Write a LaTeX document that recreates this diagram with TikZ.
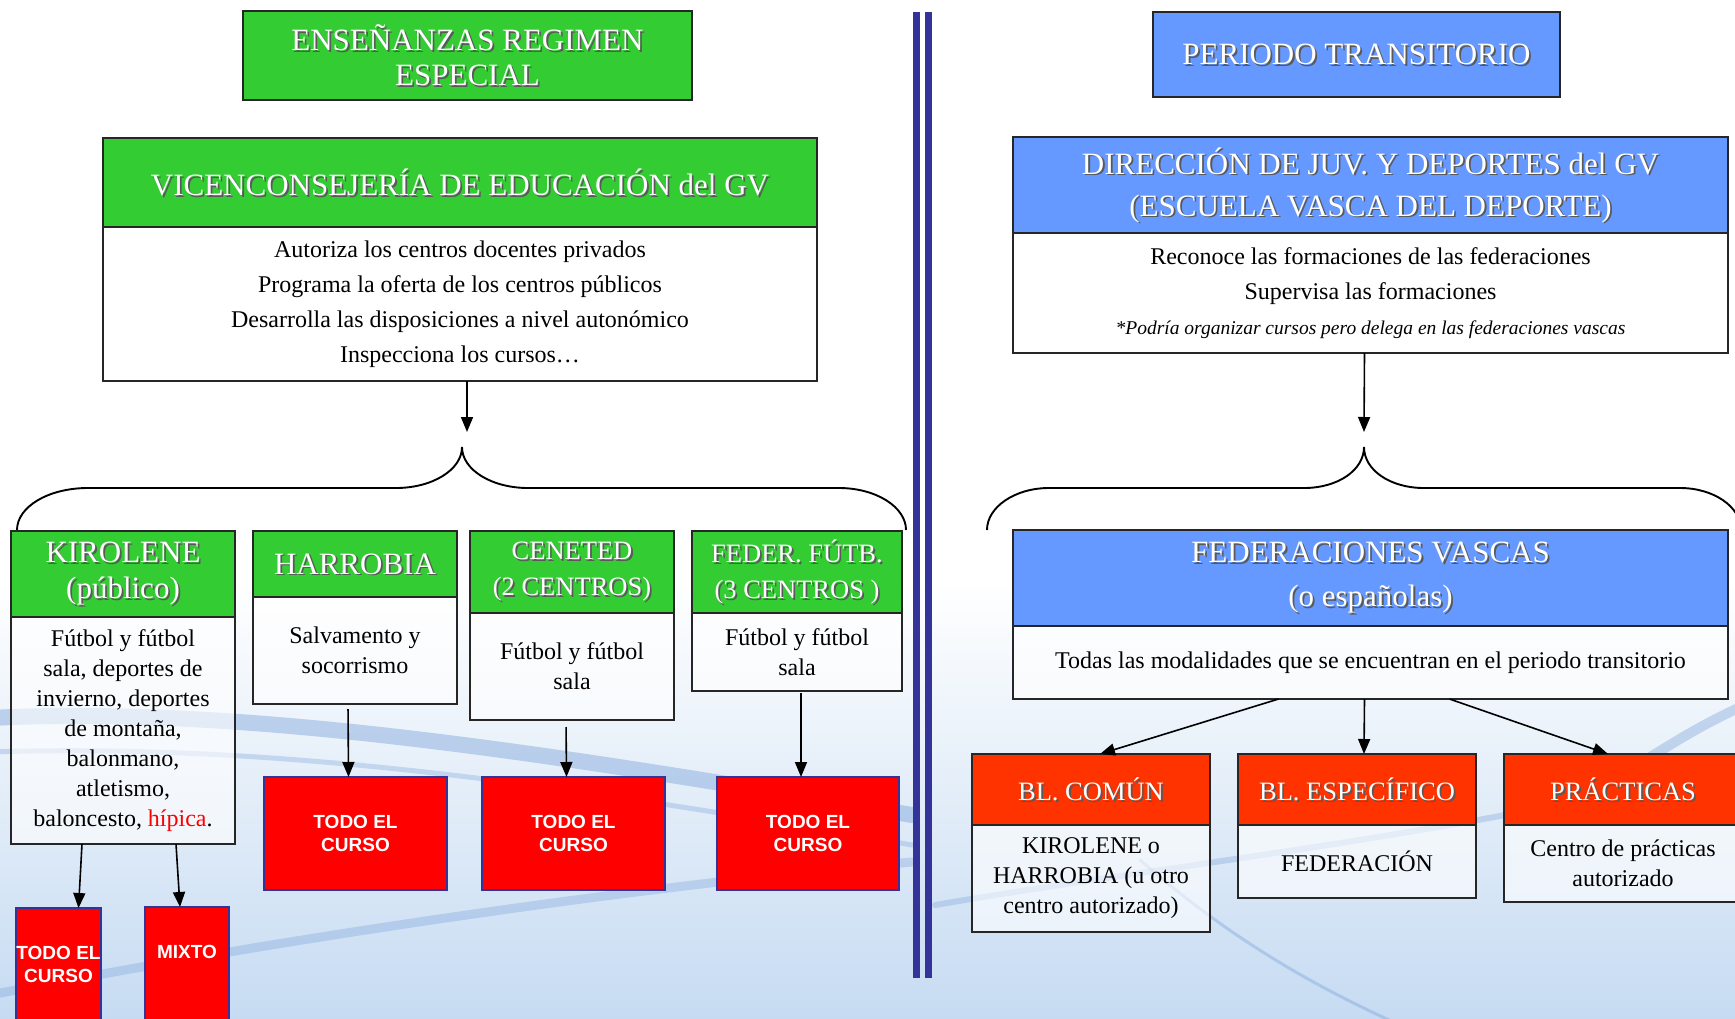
\documentclass[tikz,border=0pt]{standalone}
\usepackage{fontspec}
\setmainfont{Liberation Serif}
\newfontfamily\redfont{Liberation Sans}
\usetikzlibrary{positioning,arrows.meta}

\definecolor{hdgreen}{HTML}{33CC33}
\definecolor{hdblue}{HTML}{6699FF}
\definecolor{hdorange}{HTML}{FF3300}
\definecolor{tdred}{HTML}{FF0000}
\definecolor{navy}{HTML}{333399}
\definecolor{bgblue}{HTML}{C6DBF2}
\definecolor{wavecol}{HTML}{6F9AD6}

\tikzset{
  box/.style={draw=black!85, line width=1.6pt, anchor=north west, inner sep=0pt, outer sep=0pt, align=center},
  greenhd/.style={box, fill=hdgreen},
  bluehd/.style={box, fill=hdblue},
  orangehd/.style={box, fill=hdorange},
  bodybox/.style={box, fill=white, fill opacity=.6, text opacity=1, font=\fontsize{24}{35}\selectfont},
  body30/.style={font=\fontsize{24}{30}\selectfont},
  redbox/.style={draw=navy, line width=1.6pt, fill=tdred, anchor=north west, inner sep=0pt, outer sep=0pt,
    text=white, align=center, font=\redfont\bfseries\fontsize{19}{23}\selectfont},
  hdtext/.style={text=white, align=center, inner sep=0pt},
  hdshade/.style={text=black!65, align=center, inner sep=0pt},
  big/.style={font=\fontsize{31}{35}\selectfont},
  bigw/.style={font=\fontsize{31}{42}\selectfont},
  bigv/.style={font=\fontsize{31}{44}\selectfont},
  mid/.style={font=\fontsize{31}{36}\selectfont},
  small/.style={font=\fontsize{26.5}{36}\selectfont},
  arr/.style={-{Triangle[length=15pt,width=12pt]}, line width=1.6pt},
  brace/.style={line width=1.9pt},
  vline/.style={draw=navy, line width=7pt},
  wave/.style={draw=wavecol, line cap=round, opacity=.4},
}

% white title with a dark shadow
\newcommand{\hdtitle}[3]{%
  \node[hdshade, #2] (#1s) at ([shift={(1.8,1.8)}]#1.center) {#3};
  \node[hdtext, #2] (#1t) at (#1.center) {#3};
}

\begin{document}
\begin{tikzpicture}[x=1pt, y=-1pt]
  \useasboundingbox (0,0) rectangle (1735,1018);

  % background
  \shade[top color=white, bottom color=bgblue] (0,580) rectangle (1735,1018);
  \draw[wave, line width=16pt] (-10,718) .. controls (250,705) and (560,755) .. (912,815);
  \draw[wave, line width=5pt, opacity=.3] (-10,752) .. controls (300,742) and (600,792) .. (912,845);
  \draw[wave, line width=9pt, opacity=.3] (-10,995) .. controls (300,935) and (650,885) .. (912,862);
  \draw[wave, line width=6pt, opacity=.3] (935,905) .. controls (1200,860) and (1500,830) .. (1745,760);
  \draw[wave, line width=3pt, opacity=.35] (1140,860) .. controls (1220,930) and (1300,980) .. (1400,1025);
  \draw[wave, line width=10pt, opacity=.35] (1600,790) .. controls (1660,750) and (1700,725) .. (1745,705);

  % separator
  \draw[vline] (916,12) -- (916,978);
  \draw[vline] (928,12) -- (928,978);

  % left column
  \node[greenhd, minimum width=449, minimum height=89] (ens) at (243,11) {};
  \hdtitle{ens}{big}{ENSEÑANZAS REGIMEN\\ESPECIAL}

  \node[greenhd, minimum width=714, minimum height=89] (vic) at (103,138) {};
  \hdtitle{vic}{big}{VICENCONSEJERÍA DE EDUCACIÓN del GV}
  \node[bodybox, minimum width=714, minimum height=154] (vicb) at (vic.south west)
    {Autoriza los centros docentes privados\\Programa la oferta de los centros públicos\\Desarrolla las disposiciones a nivel autonómico\\Inspecciona los cursos…};

  \coordinate (vicbr) at (467,432);
  \draw[arr] ([xshift=7]vicb.south) -- (vicbr);
  \draw[brace] (17,530) .. controls (17,507) and (48,488) .. (88,488) -- (396,488)
    .. controls (432,488) and (462,470) .. (462,447) .. controls (462,470) and (492,488) .. (528,488)
    -- (839,488) .. controls (876,488) and (906,507) .. (906,530);

  \node[greenhd, minimum width=224, minimum height=86] (kir) at (11,531) {};
  \hdtitle{kir}{mid}{KIROLENE\\(público)}
  \node[bodybox, body30, minimum width=224, minimum height=227] (kirb) at (kir.south west)
    {Fútbol y fútbol\\sala, deportes de\\invierno, deportes\\de montaña,\\balonmano,\\atletismo,\\baloncesto, \textcolor{red}{hípica}.};

  \node[greenhd, minimum width=204, minimum height=66] (har) at (253,531) {};
  \hdtitle{har}{mid}{HARROBIA}
  \node[bodybox, body30, minimum width=204, minimum height=107] (harb) at (har.south west)
    {Salvamento y\\socorrismo};

  \node[greenhd, minimum width=204, minimum height=82] (cen) at (470,531) {};
  \hdtitle{cen}{small}{CENETED\\(2 CENTROS)}
  \node[bodybox, body30, minimum width=204, minimum height=107] (cenb) at (cen.south west)
    {Fútbol y fútbol\\sala};

  \node[greenhd, minimum width=210, minimum height=82] (fed) at (692,531) {};
  \hdtitle{fed}{small}{FEDER. FÚTB.\\(3 CENTROS )}
  \node[bodybox, body30, minimum width=210, minimum height=78] (fedb) at (fed.south west)
    {Fútbol y fútbol\\sala};

  \node[redbox, minimum width=183, minimum height=113] (tdh) at (264,777) {TODO EL\\CURSO};
  \node[redbox, minimum width=183, minimum height=113] (tdc) at (482,777) {TODO EL\\CURSO};
  \node[redbox, minimum width=182, minimum height=113] (tdf) at (717,777) {TODO EL\\CURSO};
  \node[redbox, minimum width=85, minimum height=113] (tdk) at (16,908) {TODO EL\\CURSO};
  \node[redbox, minimum width=84, minimum height=113] (mix) at (145,907) {MIXTO\\~};

  \draw[arr, shorten <=5pt] ([xshift=-7]harb.south) -- ([xshift=-7]tdh.north);
  \draw[arr, shorten <=7pt] ([xshift=-6]cenb.south) -- ([xshift=-7]tdc.north);
  \draw[arr, shorten <=2pt] ([xshift=4]fedb.south) -- ([xshift=-7]tdf.north);
  \draw[arr] ([xshift=-41]kirb.south) -- ([xshift=20]tdk.north);
  \draw[arr] ([xshift=53]kirb.south) -- ([xshift=-7]mix.north);

  % right column
  \node[bluehd, minimum width=407, minimum height=85] (per) at (1153,12) {};
  \hdtitle{per}{big}{PERIODO TRANSITORIO}

  \node[bluehd, minimum width=715, minimum height=96] (dir) at (1013,137) {};
  \hdtitle{dir}{bigw}{DIRECCIÓN DE JUV. Y DEPORTES del GV\\(ESCUELA VASCA DEL DEPORTE)}
  \node[bodybox, minimum width=715, minimum height=120] (dirb) at (dir.south west)
    {Reconoce las formaciones de las federaciones\\Supervisa las formaciones\\{\fontsize{19.5}{35}\selectfont\itshape *Podría organizar cursos pero delega en las federaciones vascas}};

  \coordinate (dirbr) at (1364,432);
  \draw[arr] ([xshift=-6]dirb.south) -- (dirbr);
  \draw[brace] (987,530) .. controls (987,507) and (1015,488) .. (1049,488) -- (1304,488)
    .. controls (1338,488) and (1364,470) .. (1364,447) .. controls (1364,470) and (1390,488) .. (1424,488)
    -- (1680,488) .. controls (1714,488) and (1741,507) .. (1741,530);

  \node[bluehd, minimum width=715, minimum height=96] (fv) at (1013,530) {};
  \hdtitle{fv}{bigv}{FEDERACIONES VASCAS\\(o españolas)}
  \node[bodybox, minimum width=715, minimum height=73] (fvb) at (fv.south west)
    {Todas las modalidades que se encuentran en el periodo transitorio};

  \node[orangehd, minimum width=238, minimum height=71] (blc) at (972,754) {};
  \hdtitle{blc}{small}{BL. COMÚN}
  \node[bodybox, body30, minimum width=238, minimum height=107] (blcb) at (blc.south west)
    {KIROLENE o\\HARROBIA (u otro\\centro autorizado)};

  \node[orangehd, minimum width=238, minimum height=71] (ble) at (1238,754) {};
  \hdtitle{ble}{small}{BL. ESPECÍFICO}
  \node[bodybox, minimum width=238, minimum height=73] (bleb) at (ble.south west) {FEDERACIÓN};

  \node[orangehd, minimum width=238, minimum height=71] (prc) at (1504,754) {};
  \hdtitle{prc}{small}{PRÁCTICAS}
  \node[bodybox, body30, minimum width=238, minimum height=77] (prcb) at (prc.south west)
    {Centro de prácticas\\autorizado};

  \draw[arr] ([xshift=-92]fvb.south) -- ([xshift=9]blc.north);
  \draw[arr] ([xshift=-6]fvb.south) -- ([xshift=7]ble.north);
  \draw[arr] ([xshift=79]fvb.south) -- ([xshift=-15]prc.north);
\end{tikzpicture}
\end{document}
